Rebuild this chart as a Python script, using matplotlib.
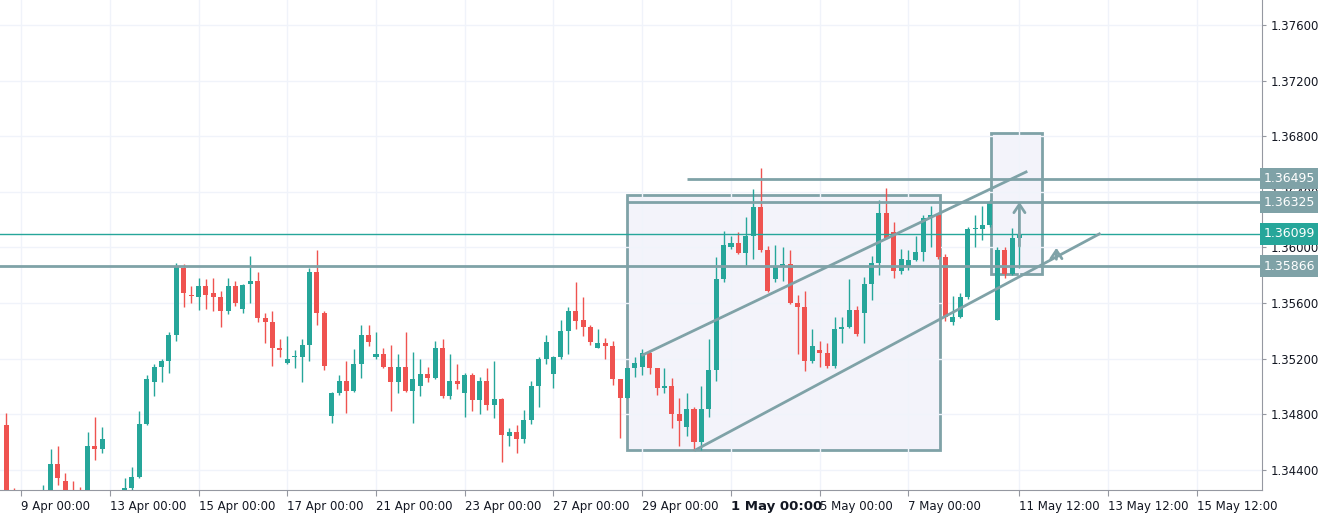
import matplotlib.pyplot as plt
import matplotlib.patches as mpatches
import numpy as np

# 4H candles, 8 Apr 16:00 .. 11 May 12:00
opens = [1.3472, 1.3424, 1.3421, 1.3415, 1.3412, 1.3415, 1.3421, 1.3444, 1.3432, 1.3424,
         1.3419, 1.3419, 1.3457, 1.3455, 1.3419, 1.3414, 1.3419, 1.3427, 1.3435, 1.3473,
         1.3503, 1.3514, 1.3518, 1.3537, 1.3585, 1.3566, 1.3564, 1.3572, 1.3567, 1.3564,
         1.3554, 1.3572, 1.3556, 1.3574, 1.3576, 1.3549, 1.3546, 1.3528, 1.3517, 1.3521,
         1.3521, 1.3530, 1.3582, 1.3553, 1.3479, 1.3495, 1.3504, 1.3497, 1.3516, 1.3537,
         1.3521, 1.3523, 1.3514, 1.3503, 1.3514, 1.3497, 1.3500, 1.3509, 1.3506, 1.3528,
         1.3493, 1.3504, 1.3495, 1.3508, 1.3490, 1.3504, 1.3487, 1.3491, 1.3464, 1.3467,
         1.3462, 1.3476, 1.3500, 1.3520, 1.3509, 1.3521, 1.3540, 1.3554, 1.3548, 1.3543,
         1.3528, 1.3531, 1.3529, 1.3505, 1.3492, 1.3513, 1.3514, 1.3524, 1.3513, 1.3499,
         1.3500, 1.3480, 1.3471, 1.3484, 1.3460, 1.3484, 1.3512, 1.3577, 1.3600, 1.3603,
         1.3596, 1.3608, 1.3629, 1.3598, 1.3577, 1.3587, 1.3588, 1.3560, 1.3557, 1.3518,
         1.3526, 1.3524, 1.3515, 1.3541, 1.3543, 1.3555, 1.3553, 1.3574, 1.3589, 1.3625,
         1.3611, 1.3583, 1.3587, 1.3591, 1.3597, 1.3621, 1.3623, 1.3593, 1.3546, 1.3550,
         1.3564, 1.3613, 1.3613, 1.3616, 1.3548, 1.3598, 1.3581, 1.3607]
closes = [1.3424, 1.3421, 1.3415, 1.3412, 1.3415, 1.3419, 1.3444, 1.3434, 1.3424, 1.3419,
          1.3415, 1.3457, 1.3455, 1.3462, 1.3414, 1.3419, 1.3427, 1.3435, 1.3473, 1.3505,
          1.3514, 1.3518, 1.3537, 1.3586, 1.3567, 1.3565, 1.3572, 1.3566, 1.3564, 1.3554,
          1.3572, 1.3560, 1.3573, 1.3576, 1.3549, 1.3546, 1.3528, 1.3526, 1.3520, 1.3522,
          1.3530, 1.3582, 1.3553, 1.3515, 1.3495, 1.3504, 1.3497, 1.3516, 1.3537, 1.3532,
          1.3523, 1.3514, 1.3503, 1.3514, 1.3497, 1.3505, 1.3509, 1.3506, 1.3528, 1.3493,
          1.3504, 1.3502, 1.3508, 1.3490, 1.3504, 1.3487, 1.3491, 1.3465, 1.3467, 1.3462,
          1.3476, 1.3500, 1.3520, 1.3532, 1.3521, 1.3540, 1.3554, 1.3547, 1.3543, 1.3532,
          1.3531, 1.3529, 1.3505, 1.3492, 1.3513, 1.3517, 1.3524, 1.3513, 1.3499, 1.3500,
          1.3480, 1.3475, 1.3484, 1.3460, 1.3484, 1.3512, 1.3577, 1.3602, 1.3603, 1.3596,
          1.3608, 1.3629, 1.3598, 1.3569, 1.3586, 1.3588, 1.3560, 1.3557, 1.3518, 1.3529,
          1.3524, 1.3515, 1.3541, 1.3543, 1.3555, 1.3538, 1.3574, 1.3589, 1.3625, 1.3607,
          1.3583, 1.3592, 1.3591, 1.3597, 1.3621, 1.3623, 1.3593, 1.3550, 1.3550, 1.3564,
          1.3613, 1.3614, 1.3616, 1.3633, 1.3598, 1.3581, 1.3607, 1.36099]
highs = [1.3481, 1.3427, 1.3423, 1.3419, 1.3419, 1.3429, 1.3455, 1.3457, 1.3438, 1.3432,
         1.3428, 1.3467, 1.3478, 1.3471, 1.3422, 1.3422, 1.3434, 1.3442, 1.3482, 1.3508,
         1.3516, 1.3520, 1.3539, 1.3589, 1.3588, 1.3572, 1.3578, 1.3577, 1.3578, 1.3569,
         1.3578, 1.3576, 1.3574, 1.3594, 1.3582, 1.3553, 1.3554, 1.3534, 1.3536, 1.3526,
         1.3534, 1.3585, 1.3598, 1.3554, 1.3496, 1.3508, 1.3518, 1.3527, 1.3544, 1.3544,
         1.3539, 1.3528, 1.3530, 1.3523, 1.3539, 1.3525, 1.3520, 1.3514, 1.3533, 1.3534,
         1.3523, 1.3516, 1.3510, 1.3510, 1.3507, 1.3513, 1.3518, 1.3492, 1.3470, 1.3472,
         1.3483, 1.3504, 1.3521, 1.3537, 1.3522, 1.3548, 1.3557, 1.3575, 1.3564, 1.3544,
         1.3541, 1.3535, 1.3533, 1.3505, 1.3513, 1.3521, 1.3527, 1.3526, 1.3513, 1.3513,
         1.3506, 1.3492, 1.3495, 1.3485, 1.3500, 1.3534, 1.3593, 1.3612, 1.3608, 1.3611,
         1.3622, 1.3642, 1.3657, 1.3601, 1.3602, 1.3600, 1.3598, 1.3566, 1.3569, 1.3541,
         1.3533, 1.3531, 1.3550, 1.3550, 1.3577, 1.3558, 1.3579, 1.3594, 1.3634, 1.3643,
         1.3618, 1.3599, 1.3598, 1.3608, 1.3623, 1.3630, 1.3623, 1.3595, 1.3565, 1.3567,
         1.3615, 1.3623, 1.3630, 1.3634, 1.3600, 1.3600, 1.3614, 1.3611]
lows = [1.3419, 1.3417, 1.3410, 1.3408, 1.3407, 1.3412, 1.3419, 1.3429, 1.3421, 1.3415,
        1.3412, 1.3415, 1.3447, 1.3452, 1.3410, 1.3412, 1.3417, 1.3424, 1.3434, 1.3472,
        1.3493, 1.3503, 1.3510, 1.3533, 1.3557, 1.3560, 1.3555, 1.3556, 1.3554, 1.3543,
        1.3552, 1.3558, 1.3553, 1.3560, 1.3546, 1.3531, 1.3515, 1.3521, 1.3516, 1.3513,
        1.3503, 1.3518, 1.3544, 1.3512, 1.3474, 1.3494, 1.3481, 1.3496, 1.3506, 1.3529,
        1.3520, 1.3513, 1.3482, 1.3495, 1.3496, 1.3474, 1.3493, 1.3503, 1.3505, 1.3492,
        1.3491, 1.3498, 1.3478, 1.3482, 1.3480, 1.3483, 1.3477, 1.3446, 1.3457, 1.3452,
        1.3459, 1.3473, 1.3485, 1.3516, 1.3499, 1.3520, 1.3523, 1.3541, 1.3536, 1.3530,
        1.3528, 1.3520, 1.3501, 1.3463, 1.3492, 1.3507, 1.3508, 1.3509, 1.3494, 1.3495,
        1.3470, 1.3457, 1.3464, 1.3454, 1.3454, 1.3478, 1.3504, 1.3575, 1.3599, 1.3595,
        1.3587, 1.3592, 1.3597, 1.3568, 1.3575, 1.3576, 1.3559, 1.3523, 1.3511, 1.3517,
        1.3514, 1.3513, 1.3513, 1.3531, 1.3542, 1.3536, 1.3531, 1.3562, 1.3580, 1.3606,
        1.3578, 1.3581, 1.3584, 1.3590, 1.3590, 1.3600, 1.3592, 1.3547, 1.3544, 1.3549,
        1.3563, 1.3600, 1.3605, 1.3615, 1.3548, 1.3578, 1.3580, 1.3585]

date_ticks = [2, 14, 26, 38, 50, 62, 74, 86, 98, 110, 122, 137, 149, 161]
date_labels = ['9 Apr 00:00', '13 Apr 00:00', '15 Apr 00:00', '17 Apr 00:00', '21 Apr 00:00',
               '23 Apr 00:00', '27 Apr 00:00', '29 Apr 00:00', '1 May 00:00', '5 May 00:00',
               '7 May 00:00', '11 May 12:00', '13 May 12:00', '15 May 12:00']
price_ticks = [1.3440, 1.3480, 1.3520, 1.3560, 1.3600, 1.3640, 1.3680, 1.3720, 1.3760]

last_price = 1.36099
support = 1.35866
level1 = 1.36325
level2 = 1.36495

up = '#26a69a'
down = '#ef5350'
gray = '#7fa2a7'

fig = plt.figure(figsize=(13.18, 5.21), dpi=100)
ax = fig.add_axes([0, 0.0595, 1262 / 1318, 0.9405])

o = np.array(opens)
c = np.array(closes)
h = np.array(highs)
l = np.array(lows)
x = np.arange(len(o))
cols = [up if cc >= oo else down for oo, cc in zip(o, c)]

# boxes behind the candles
ax.add_patch(mpatches.Rectangle((84.0, 1.34543), 42.2, 1.36377 - 1.34543,
                                facecolor='#f3f3fa', edgecolor=gray, lw=2, zorder=1))
ax.add_patch(mpatches.Rectangle((133.1, 1.35809), 7.0, 1.36823 - 1.35809,
                                facecolor='#f3f3fa', edgecolor=gray, lw=2, zorder=1))

ax.vlines(x, l, h, colors=cols, lw=1, zorder=3)
body_h = np.maximum(np.abs(c - o), 0.00003)
ax.bar(x, body_h, bottom=np.minimum(o, c), width=0.68, color=cols, zorder=3)

ax.axhline(last_price, color=up, lw=1, zorder=4)
ax.axhline(support, color=gray, lw=2, zorder=4)
ax.hlines(level1, 84.0, 175, color=gray, lw=2, zorder=4)
ax.hlines(level2, 92.0, 175, color=gray, lw=2, zorder=4)
ax.plot([86.05, 137.9], [1.35226, 1.36543], color=gray, lw=2, zorder=4)
ax.plot([93.2, 147.8], [1.34543, 1.36097], color=gray, lw=2, zorder=4)

for ax_x, y0, y1 in [(137.0, 1.35989, 1.36348), (142.0, 1.35895, 1.36017)]:
    ax.annotate('', xy=(ax_x, y1), xytext=(ax_x, y0),
                arrowprops=dict(arrowstyle='->,head_length=0.6,head_width=0.4',
                                color=gray, lw=2), zorder=5)

ax.set_xlim(-0.84, 169.8)
ax.set_ylim(1.34255, 1.3778)

ax.set_xticks(date_ticks)
ax.set_xticklabels(date_labels, ha='left', fontsize=8.5, color='#131722')
for lab in ax.get_xticklabels():
    if lab.get_text().startswith('1 May'):
        lab.set_fontweight('bold')
        lab.set_fontsize(9.5)
ax.yaxis.tick_right()
ax.set_yticks(price_ticks)
ax.set_yticklabels(['%.5f' % p for p in price_ticks], fontsize=8.5, color='#131722')
ax.tick_params(axis='y', length=3, pad=3, color='#9598a1')
ax.tick_params(axis='x', length=4, pad=3, color='#9598a1')
ax.grid(True, color='#f0f3fa', lw=1)
for s in ['top', 'left']:
    ax.spines[s].set_visible(False)
ax.spines['right'].set_color('#9598a1')
ax.spines['bottom'].set_color('#9598a1')

for val, fc in [(level2, gray), (level1, gray), (last_price, up), (support, gray)]:
    ax.text(1.0015, val, '%.5f' % val, transform=ax.get_yaxis_transform(),
            ha='left', va='center', fontsize=9, color='white', zorder=10,
            bbox=dict(boxstyle='square,pad=0.35', fc=fc, ec='none'), clip_on=False)

fig.savefig('out.png', dpi=100)
